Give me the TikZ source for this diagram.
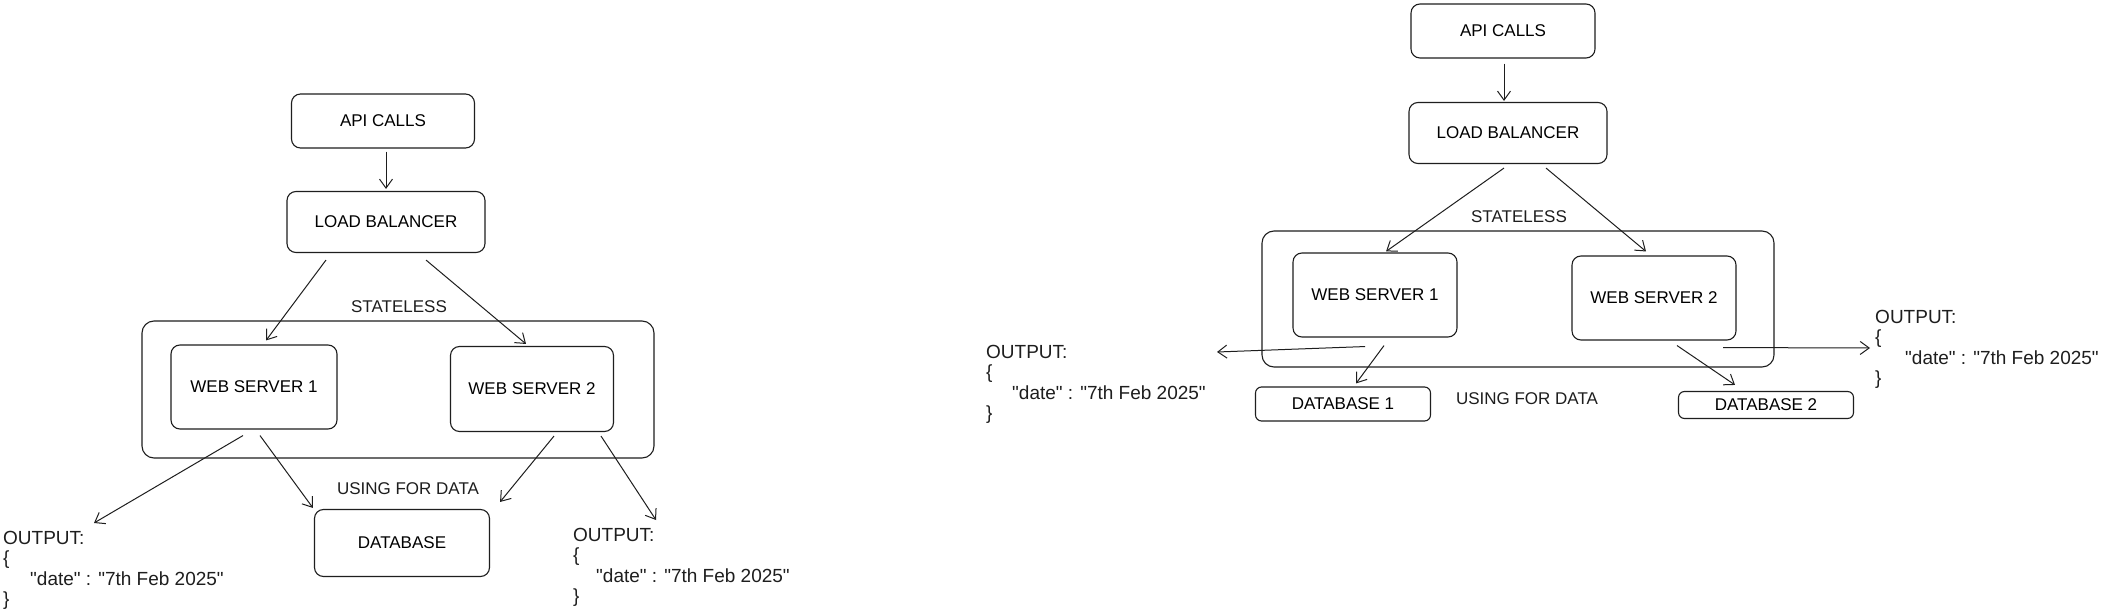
\documentclass[tikz,border=0pt]{standalone}
\usepackage{fontspec}
\setmainfont{Liberation Sans}
\usetikzlibrary{arrows.meta}
\definecolor{ink}{HTML}{1E1E1E}
\newcommand{\qq}{\textquotedbl}
\begin{document}
\begin{tikzpicture}[x=1pt,y=-1pt,
  box/.style={draw=ink, line width=1.1pt, rounded corners=9pt, inner sep=0pt, font=\fontsize{17}{20}\selectfont},
  lbl/.style={inner sep=0pt, text=ink, font=\fontsize{17}{20}\selectfont},
  outtxt/.style={inner sep=0pt, anchor=base west, text=ink, font=\fontsize{19}{21}\selectfont},
  arr/.style={draw=ink, line width=1pt, -{Straight Barb[length=9pt,width=13pt,line width=1pt]}}]
\useasboundingbox (0,0) rectangle (2114,612);
\fill[white] (0,0) rectangle (2114,612);

% ---------- left diagram ----------
\node[box, rounded corners=12pt, minimum width=512pt, minimum height=137pt] (cont1) at (398,389.5) {};
\node[box, minimum width=183pt, minimum height=54pt] (api1) at (383,121) {API CALLS};
\node[box, minimum width=198pt, minimum height=61pt] (lb1) at (386,222) {LOAD BALANCER};
\node[box, minimum width=166pt, minimum height=84pt] (ws1a) at (254,387) {WEB SERVER 1};
\node[box, minimum width=163pt, minimum height=85pt] (ws1b) at (532,389) {WEB SERVER 2};
\node[box, minimum width=175pt, minimum height=67pt] (db1) at (402,543) {DATABASE};
\node[lbl] (st1) at (399,307) {STATELESS};
\node[lbl] (us1) at (408,489) {USING FOR DATA};

\coordinate (o1l) at (94,523);
\coordinate (o1r) at (656,520);

\draw[arr] ([xshift=3pt,yshift=-3pt]api1.south) -- ([yshift=2pt]lb1.north);
\draw[arr] ([xshift=-60pt,yshift=-7pt]lb1.south) -- ([xshift=12pt,yshift=4pt]ws1a.north);
\draw[arr] ([xshift=40pt,yshift=-7pt]lb1.south) -- ([xshift=-6pt,yshift=2pt]ws1b.north);
\draw[arr] ([xshift=-11pt,yshift=-6pt]ws1a.south) -- (o1l);
\draw[arr] ([xshift=6pt,yshift=-6pt]ws1a.south) -- ([xshift=-1pt,yshift=1pt]db1.north west);
\draw[arr] ([xshift=22pt,yshift=-4pt]ws1b.south) -- ([xshift=10pt,yshift=7pt]db1.north east);
\draw[arr] ([xshift=69pt,yshift=-4pt]ws1b.south) -- (o1r);

\node[outtxt] (o1la) at (3,544) {OUTPUT:};
\node[outtxt] (o1lb) at (3,564.5) {\{};
\node[outtxt] (o1lc) at (30,585) {\qq date\qq{} : \qq 7th Feb 2025\qq};
\node[outtxt] (o1ld) at (3,605.5) {\}};

\node[outtxt] (o1ra) at (573,541) {OUTPUT:};
\node[outtxt] (o1rb) at (573,561.5) {\{};
\node[outtxt] (o1rc) at (596,582) {\qq date\qq{} : \qq 7th Feb 2025\qq};
\node[outtxt] (o1rd) at (573,602.5) {\}};

% ---------- right diagram ----------
\node[box, rounded corners=12pt, minimum width=512pt, minimum height=136pt] (cont2) at (1518,299) {};
\node[box, minimum width=184pt, minimum height=54pt] (api2) at (1503,31) {API CALLS};
\node[box, minimum width=198pt, minimum height=61pt] (lb2) at (1508,133) {LOAD BALANCER};
\node[box, minimum width=164pt, minimum height=84pt] (ws2a) at (1375,295) {WEB SERVER 1};
\node[box, minimum width=164pt, minimum height=84pt] (ws2b) at (1654,298) {WEB SERVER 2};
\node[box, rounded corners=6pt, minimum width=175pt, minimum height=34pt] (db2a) at (1343,404) {DATABASE 1};
\node[box, rounded corners=6pt, minimum width=175pt, minimum height=27pt] (db2b) at (1766,405) {DATABASE 2};
\node[lbl] (st2) at (1519,217) {STATELESS};
\node[lbl] (us2) at (1527,399) {USING FOR DATA};

\coordinate (o2l) at (1217,352);
\coordinate (o2r) at (1870,348);

\draw[arr] ([xshift=1pt,yshift=-5pt]api2.south) -- ([xshift=-4pt,yshift=1pt]lb2.north);
\draw[arr] ([xshift=-4pt,yshift=-4pt]lb2.south) -- ([xshift=11pt,yshift=1pt]ws2a.north);
\draw[arr] ([xshift=38pt,yshift=-4pt]lb2.south) -- ([xshift=-8pt,yshift=4pt]ws2b.north);
\draw[arr] ([xshift=-10pt,yshift=-9pt]ws2a.south) -- (o2l);
\draw[arr] ([xshift=9pt,yshift=-8pt]ws2a.south) -- ([xshift=13pt,yshift=3pt]db2a.north);
\draw[arr] ([xshift=23pt,yshift=-5pt]ws2b.south) -- ([xshift=-31pt,yshift=6pt]db2b.north);
\draw[arr] ([xshift=69pt,yshift=-7pt]ws2b.south) -- (o2r);

\node[outtxt] (o2la) at (986,358) {OUTPUT:};
\node[outtxt] (o2lb) at (986,378.5) {\{};
\node[outtxt] (o2lc) at (1012,399) {\qq date\qq{} : \qq 7th Feb 2025\qq};
\node[outtxt] (o2ld) at (986,419.5) {\}};

\node[outtxt] (o2ra) at (1875,323) {OUTPUT:};
\node[outtxt] (o2rb) at (1875,343.5) {\{};
\node[outtxt] (o2rc) at (1905,364) {\qq date\qq{} : \qq 7th Feb 2025\qq};
\node[outtxt] (o2rd) at (1875,384.5) {\}};
\end{tikzpicture}
\end{document}
